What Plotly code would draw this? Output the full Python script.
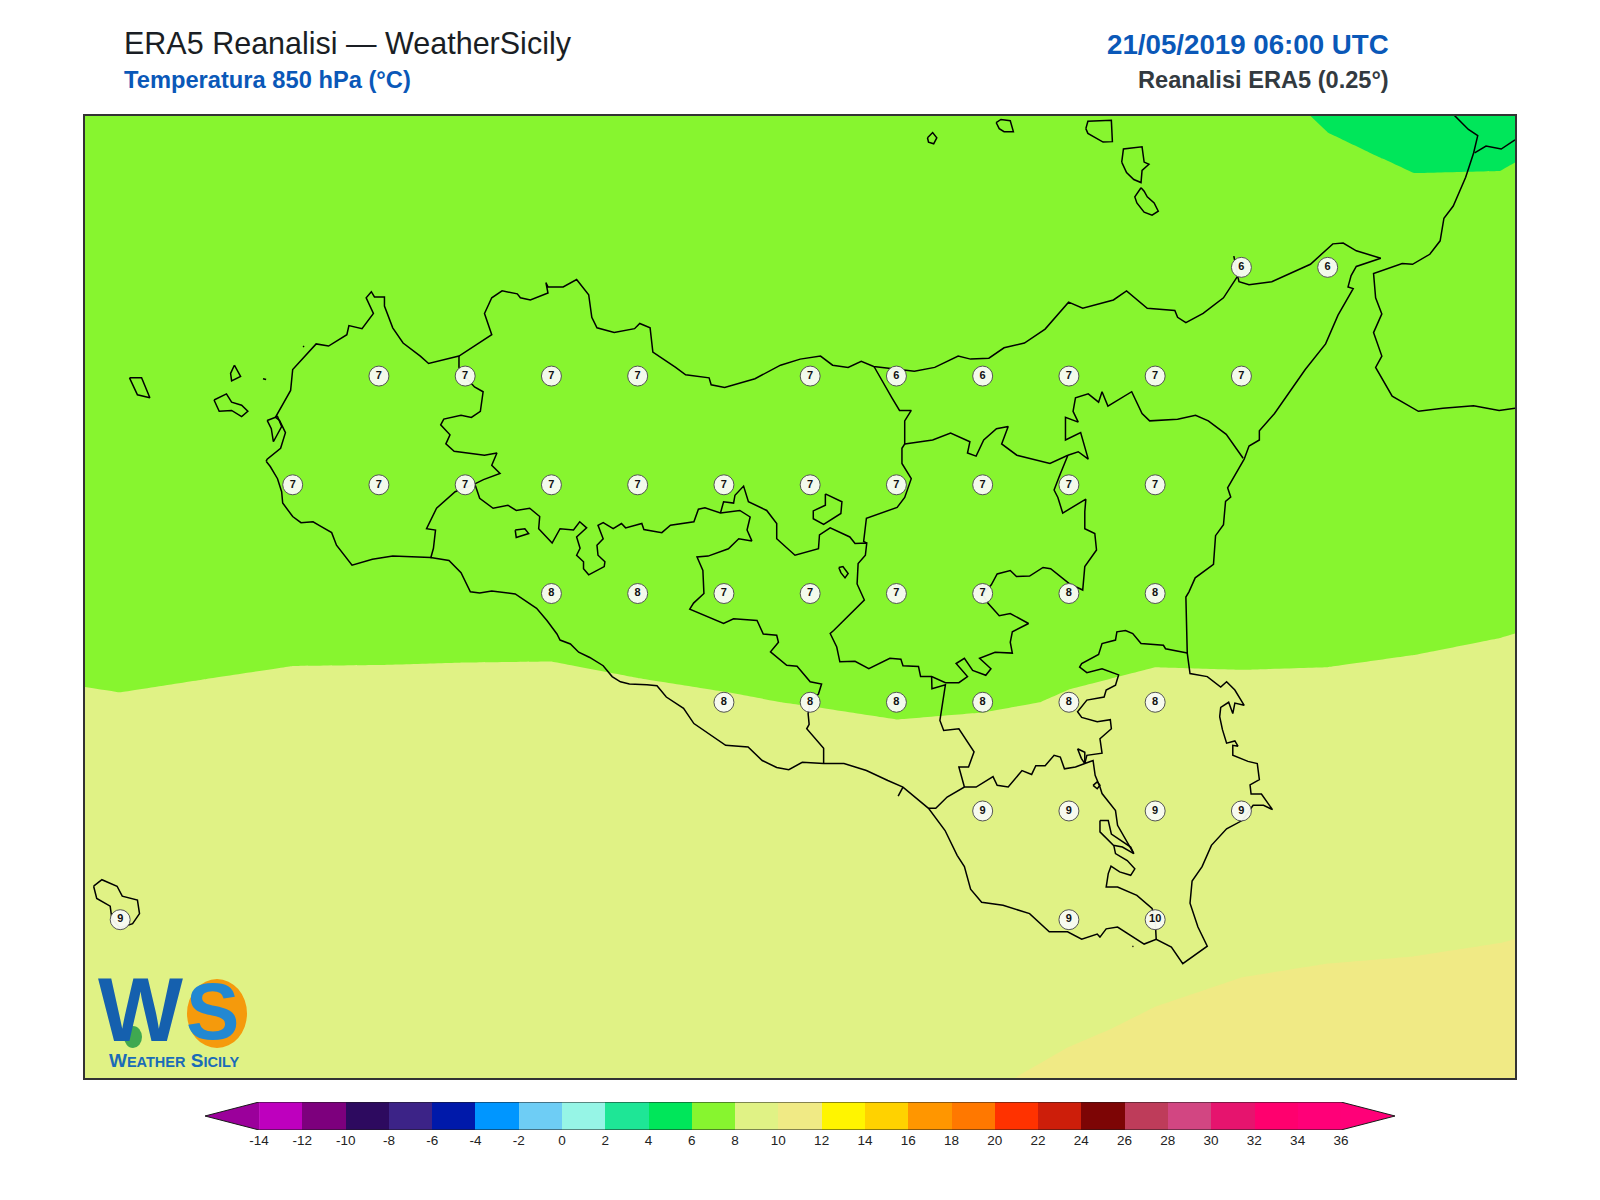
import plotly.graph_objects as go

# ERA5 850 hPa temperature on the 0.25 degree grid
grid_lon = [11.75, 12.0, 12.25, 12.5, 12.75, 13.0, 13.25, 13.5, 13.75, 14.0, 14.25, 14.5, 14.75, 15.0, 15.25, 15.5, 15.75, 16.0, 16.25]
grid_lat = [36.25, 36.5, 36.75, 37.0, 37.25, 37.5, 37.75, 38.0, 38.25, 38.5, 38.75]

t_3625 = [9.6, 9.6, 9.6, 9.65, 9.65, 9.7, 9.7, 9.7, 9.75, 9.8, 9.85, 10.15, 10.49, 10.8, 11.0, 11.2, 11.4, 11.7, 11.8]
t_3650 = [9.45, 9.45, 9.45, 9.45, 9.5, 9.5, 9.5, 9.5, 9.55, 9.6, 9.65, 9.75, 9.9, 10.1, 10.53, 10.89, 11.08, 11.64, 11.7]
t_3675 = [9.1, 9.1, 9.15, 9.15, 9.15, 9.15, 9.15, 9.15, 9.15, 9.2, 9.3, 9.35, 9.45, 9.6, 9.4, 9.4, 9.45, 9.55, 10.02]
t_3700 = [8.7, 8.75, 8.8, 8.85, 8.85, 8.85, 8.8, 8.75, 8.7, 8.77, 9.06, 9.16, 9.1, 9.1, 9.05, 9.05, 9.1, 9.2, 9.4]
t_3725 = [8.15, 8.06, 8.15, 8.25, 8.26, 8.26, 8.24, 8.13, 8.06, 7.97, 7.8, 7.88, 8.06, 8.19, 8.17, 8.19, 8.23, 8.29, 8.49]
t_3750 = [7.45, 7.4, 7.45, 7.5, 7.5, 7.55, 7.6, 7.55, 7.45, 7.4, 7.35, 7.3, 7.55, 7.6, 7.6, 7.6, 7.7, 7.8, 7.9]
t_3775 = [7.3, 7.3, 7.3, 7.25, 7.2, 7.2, 7.2, 7.15, 7.1, 7.05, 7.0, 7.0, 7.05, 7.2, 7.25, 7.3, 7.4, 7.45, 7.5]
t_3800 = [7.1, 7.1, 7.1, 7.1, 7.05, 7.0, 6.95, 6.9, 6.8, 6.6, 6.45, 6.45, 6.55, 6.65, 6.7, 6.8, 6.9, 6.9, 6.95]
t_3825 = [6.9, 6.9, 6.9, 6.9, 6.9, 6.9, 6.8, 6.8, 6.7, 6.6, 6.5, 6.5, 6.5, 6.45, 6.3, 6.35, 6.26, 6.39, 6.5]
t_3850 = [6.7, 6.7, 6.7, 6.7, 6.7, 6.7, 6.7, 6.7, 6.6, 6.6, 6.5, 6.5, 6.5, 6.4, 6.3, 6.07, 5.96, 5.95, 6.15]
t_3875 = [6.6, 6.6, 6.6, 6.6, 6.6, 6.6, 6.5, 6.5, 6.5, 6.5, 6.4, 6.4, 6.3, 6.2, 6.0, 5.78, 5.6, 5.6, 5.86]

# grid points printed on the land
point_lon = [15.25, 15.5,
             12.75, 13.0, 13.25, 13.5, 14.0, 14.25, 14.5, 14.75, 15.0, 15.25,
             12.5, 12.75, 13.0, 13.25, 13.5, 13.75, 14.0, 14.25, 14.5, 14.75, 15.0,
             13.25, 13.5, 13.75, 14.0, 14.25, 14.5, 14.75, 15.0,
             13.75, 14.0, 14.25, 14.5, 14.75, 15.0,
             14.5, 14.75, 15.0, 15.25,
             12.0, 14.75, 15.0]
point_lat = [38.25, 38.25,
             38.0, 38.0, 38.0, 38.0, 38.0, 38.0, 38.0, 38.0, 38.0, 38.0,
             37.75, 37.75, 37.75, 37.75, 37.75, 37.75, 37.75, 37.75, 37.75, 37.75, 37.75,
             37.5, 37.5, 37.5, 37.5, 37.5, 37.5, 37.5, 37.5,
             37.25, 37.25, 37.25, 37.25, 37.25, 37.25,
             37.0, 37.0, 37.0, 37.0,
             36.75, 36.75, 36.75]
point_val = [6, 6,
             7, 7, 7, 7, 7, 6, 6, 7, 7, 7,
             7, 7, 7, 7, 7, 7, 7, 7, 7, 7, 7,
             8, 8, 7, 7, 7, 7, 8, 8,
             8, 8, 8, 8, 8, 8,
             9, 9, 9, 9,
             9, 9, 10]

cbar_ticks = list(range(-14, 38, 2))
cbar_labels = [str(t) for t in cbar_ticks]
cbar_colors = ["#BE00BE", "#7D007D", "#2D0A5F", "#3C2387", "#0019AA", "#0096FF", "#6ECDF5", "#96F5E6",
               "#1EE696", "#00E65A", "#87F52F", "#E0F285", "#F0EA85", "#FFF500", "#FFD200", "#FF9600",
               "#FF7800", "#FF3200", "#CD1E0A", "#7D0505", "#BE3C5A", "#D24682", "#E6146E", "#FF006E", "#FF0078"]
cbar_mids = [-13, -11, -9, -7, -5, -3, -1, 1, 3, 5, 7, 9, 11, 13, 15, 17, 19, 21, 23, 25, 27, 29, 31, 33, 35]

# coastlines and province borders as (lon, lat)
sicily = [(12.423, 37.804), (12.435, 37.792), (12.456, 37.764), (12.468, 37.734), (12.471, 37.708), (12.500, 37.677), (12.524, 37.663),
          (12.559, 37.665), (12.583, 37.654), (12.613, 37.640), (12.627, 37.611), (12.672, 37.565), (12.731, 37.579), (12.790, 37.586),
          (12.900, 37.583), (12.953, 37.576), (12.988, 37.548), (13.015, 37.504), (13.042, 37.501), (13.077, 37.506), (13.145, 37.499),
          (13.184, 37.478), (13.207, 37.466), (13.237, 37.438), (13.266, 37.407), (13.275, 37.393), (13.305, 37.384), (13.329, 37.365),
          (13.361, 37.353), (13.400, 37.334), (13.426, 37.309), (13.450, 37.297), (13.476, 37.292), (13.527, 37.290), (13.556, 37.288),
          (13.583, 37.262), (13.633, 37.236), (13.663, 37.201), (13.710, 37.175), (13.755, 37.151), (13.820, 37.147), (13.861, 37.116),
          (13.903, 37.100), (13.938, 37.095), (13.977, 37.112), (14.039, 37.109), (14.098, 37.109), (14.163, 37.093), (14.225, 37.070),
          (14.269, 37.055), (14.343, 37.006), (14.391, 36.955), (14.426, 36.898), (14.447, 36.872), (14.465, 36.820), (14.497, 36.790),
          (14.559, 36.783), (14.636, 36.764), (14.693, 36.722), (14.746, 36.722), (14.787, 36.705), (14.832, 36.717), (14.840, 36.710),
          (14.858, 36.729), (14.891, 36.733), (14.923, 36.717), (14.968, 36.694), (15.003, 36.705), (15.047, 36.687), (15.080, 36.649),
          (15.124, 36.675), (15.151, 36.689), (15.124, 36.733), (15.101, 36.788), (15.107, 36.839), (15.136, 36.872), (15.163, 36.921),
          (15.207, 36.959), (15.252, 36.978), (15.284, 37.013), (15.314, 37.013), (15.340, 37.003), (15.308, 37.039), (15.278, 37.039),
          (15.275, 37.060), (15.302, 37.072), (15.296, 37.109), (15.269, 37.114), (15.225, 37.128), (15.225, 37.151), (15.240, 37.149),
          (15.231, 37.161), (15.207, 37.156), (15.195, 37.187), (15.187, 37.217), (15.190, 37.238), (15.213, 37.250), (15.225, 37.224),
          (15.231, 37.248), (15.258, 37.243), (15.231, 37.278), (15.207, 37.297), (15.190, 37.285), (15.151, 37.309), (15.101, 37.316),
          (15.093, 37.363), (15.089, 37.492), (15.098, 37.504), (15.116, 37.536), (15.169, 37.567), (15.175, 37.633), (15.198, 37.658),
          (15.204, 37.712), (15.219, 37.722), (15.210, 37.743), (15.258, 37.809), (15.272, 37.839), (15.302, 37.853), (15.302, 37.874),
          (15.346, 37.914), (15.435, 38.015), (15.494, 38.074), (15.530, 38.140), (15.565, 38.191), (15.574, 38.201), (15.559, 38.205),
          (15.568, 38.231), (15.583, 38.252), (15.654, 38.271), (15.583, 38.288), (15.545, 38.306), (15.515, 38.304), (15.450, 38.257),
          (15.338, 38.217), (15.272, 38.210), (15.243, 38.217), (15.240, 38.227), (15.228, 38.276), (15.240, 38.231), (15.198, 38.180),
          (15.139, 38.144), (15.089, 38.123), (15.065, 38.135), (15.057, 38.151), (14.977, 38.156), (14.917, 38.196), (14.879, 38.175),
          (14.790, 38.156), (14.749, 38.170), (14.681, 38.108), (14.621, 38.076), (14.562, 38.065), (14.518, 38.041), (14.465, 38.039),
          (14.429, 38.046), (14.361, 38.020), (14.302, 38.011), (14.184, 38.022), (14.148, 38.034), (14.110, 38.020), (14.065, 38.025),
          (14.030, 38.046), (13.971, 38.039), (13.914, 38.025), (13.840, 37.994), (13.752, 37.974), (13.713, 37.980), (13.707, 37.996),
          (13.639, 38.003), (13.610, 38.020), (13.544, 38.055), (13.536, 38.111), (13.506, 38.121), (13.491, 38.109), (13.432, 38.100),
          (13.382, 38.111), (13.367, 38.135), (13.358, 38.187), (13.323, 38.222), (13.284, 38.205), (13.240, 38.205), (13.234, 38.215),
          (13.240, 38.191), (13.189, 38.175), (13.160, 38.180), (13.151, 38.189), (13.107, 38.196), (13.077, 38.180), (13.056, 38.144),
          (13.077, 38.095), (12.982, 38.046), (12.894, 38.029), (12.870, 38.046), (12.820, 38.076), (12.790, 38.111), (12.766, 38.161),
          (12.766, 38.182), (12.737, 38.182), (12.728, 38.194), (12.713, 38.180), (12.734, 38.144), (12.701, 38.109), (12.663, 38.116),
          (12.657, 38.095), (12.604, 38.069), (12.568, 38.074), (12.530, 38.041), (12.500, 38.015), (12.494, 37.967), (12.450, 37.905),
          (12.462, 37.898), (12.479, 37.870), (12.465, 37.834), (12.426, 37.809), (12.423, 37.804)]

stagnone = [(12.426, 37.898), (12.456, 37.907), (12.468, 37.884), (12.444, 37.849), (12.438, 37.879), (12.426, 37.898)]
marettimo = [(12.027, 37.996), (12.062, 37.996), (12.086, 37.950), (12.050, 37.957), (12.027, 37.996)]
favignana = [(12.272, 37.945), (12.308, 37.959), (12.323, 37.940), (12.352, 37.933), (12.370, 37.919), (12.352, 37.907), (12.323, 37.921), (12.287, 37.919), (12.272, 37.945)]
levanzo = [(12.331, 38.025), (12.349, 37.999), (12.323, 37.989), (12.320, 38.006), (12.331, 38.025)]
formica = [(12.414, 37.994), (12.423, 37.992)]
alicudi = [(14.340, 38.548), (14.355, 38.560), (14.367, 38.548), (14.358, 38.534), (14.343, 38.538), (14.340, 38.548)]
filicudi = [(14.539, 38.583), (14.553, 38.590), (14.580, 38.587), (14.589, 38.562), (14.562, 38.562), (14.548, 38.569), (14.539, 38.583)]
salina = [(14.799, 38.569), (14.805, 38.586), (14.873, 38.588), (14.876, 38.539), (14.849, 38.538), (14.805, 38.558), (14.799, 38.569)]
lipari = [(14.903, 38.492), (14.908, 38.522), (14.962, 38.527), (14.968, 38.492), (14.982, 38.487), (14.962, 38.473), (14.959, 38.445), (14.938, 38.452), (14.917, 38.468), (14.903, 38.492)]
vulcano = [(14.959, 38.433), (14.968, 38.425), (14.977, 38.412), (14.997, 38.398), (15.009, 38.379), (14.991, 38.370), (14.968, 38.377), (14.947, 38.398), (14.941, 38.412), (14.959, 38.433)]
pantelleria = [(11.923, 36.827), (11.947, 36.842), (11.991, 36.827), (12.006, 36.804), (12.050, 36.795), (12.056, 36.764), (12.036, 36.741), (12.000, 36.731), (11.976, 36.752), (11.971, 36.781), (11.932, 36.799), (11.923, 36.827)]
islet_north = [(12.530, 38.069), (12.533, 38.067)]
islet_south = [(14.934, 36.689), (14.937, 36.688)]

calabria = [(15.864, 38.602), (15.908, 38.567), (15.935, 38.553), (15.923, 38.513), (15.900, 38.457), (15.864, 38.391), (15.837, 38.363),
            (15.826, 38.311), (15.796, 38.280), (15.746, 38.257), (15.716, 38.259), (15.633, 38.236), (15.639, 38.180), (15.657, 38.143),
            (15.633, 38.100), (15.657, 38.046), (15.639, 38.020), (15.687, 37.954), (15.763, 37.919), (15.834, 37.926), (15.923, 37.932),
            (15.997, 37.921), (16.043, 37.926)]
calabria_border = [(15.926, 38.513), (15.959, 38.529), (16.003, 38.522), (16.043, 38.543)]

tp_pa = [(12.982, 38.046), (12.982, 38.020), (13.000, 37.999), (13.027, 37.975), (13.052, 37.964), (13.044, 37.919), (13.018, 37.905),
         (12.988, 37.910), (12.938, 37.901), (12.929, 37.888), (12.956, 37.865), (12.944, 37.844), (12.968, 37.827), (13.056, 37.818),
         (13.092, 37.823), (13.077, 37.795), (13.101, 37.776), (13.053, 37.762), (13.028, 37.752)]
tp_ag = [(13.028, 37.752), (12.971, 37.734), (12.917, 37.696), (12.888, 37.649), (12.914, 37.646), (12.908, 37.604), (12.900, 37.581)]
pa_ag = [(13.028, 37.752), (13.042, 37.719), (13.081, 37.696), (13.124, 37.703), (13.148, 37.691), (13.187, 37.696), (13.216, 37.677),
         (13.213, 37.649), (13.252, 37.616), (13.275, 37.649), (13.314, 37.646), (13.332, 37.665), (13.352, 37.651), (13.323, 37.630),
         (13.333, 37.604), (13.323, 37.588), (13.343, 37.573), (13.343, 37.557), (13.358, 37.543), (13.403, 37.562), (13.405, 37.573),
         (13.385, 37.588), (13.382, 37.611), (13.400, 37.626), (13.385, 37.657), (13.400, 37.663), (13.429, 37.649), (13.453, 37.661),
         (13.465, 37.651), (13.512, 37.661), (13.518, 37.647), (13.570, 37.640), (13.595, 37.657), (13.663, 37.665), (13.676, 37.694),
         (13.695, 37.697), (13.740, 37.685), (13.796, 37.691), (13.826, 37.676), (13.817, 37.646), (13.831, 37.621), (13.793, 37.626),
         (13.763, 37.603), (13.704, 37.586), (13.672, 37.584), (13.689, 37.553), (13.692, 37.500), (13.662, 37.478), (13.651, 37.464),
         (13.704, 37.446), (13.749, 37.431), (13.778, 37.442), (13.846, 37.438), (13.864, 37.407), (13.903, 37.404), (13.908, 37.388),
         (13.885, 37.366), (13.932, 37.335), (13.962, 37.333), (14.000, 37.297), (14.033, 37.292), (14.024, 37.269), (14.000, 37.250),
         (13.994, 37.224), (13.997, 37.199), (13.990, 37.189), (14.019, 37.163), (14.039, 37.144), (14.039, 37.109)]
pa_cl = [(13.740, 37.685), (13.749, 37.711), (13.778, 37.708), (13.782, 37.726), (13.807, 37.747), (13.821, 37.711), (13.874, 37.691),
         (13.903, 37.661), (13.903, 37.626), (13.956, 37.588), (14.024, 37.603), (14.027, 37.635), (14.058, 37.651), (14.115, 37.630),
         (14.130, 37.615), (14.164, 37.616), (14.160, 37.588), (14.139, 37.569), (14.136, 37.522), (14.157, 37.485), (14.068, 37.415),
         (14.058, 37.408), (14.077, 37.377), (14.086, 37.343), (14.130, 37.344), (14.170, 37.327), (14.231, 37.351), (14.263, 37.349),
         (14.269, 37.334), (14.314, 37.332), (14.320, 37.309), (14.352, 37.309), (14.392, 37.295), (14.431, 37.295), (14.456, 37.309),
         (14.423, 37.339), (14.447, 37.351), (14.471, 37.323), (14.509, 37.312), (14.524, 37.327), (14.491, 37.351), (14.536, 37.365),
         (14.586, 37.363), (14.580, 37.388), (14.586, 37.412), (14.633, 37.431), (14.580, 37.454), (14.548, 37.449), (14.515, 37.478),
         (14.500, 37.498), (14.525, 37.520), (14.542, 37.545), (14.580, 37.553), (14.598, 37.539), (14.636, 37.540), (14.675, 37.560),
         (14.697, 37.557), (14.752, 37.522), (14.790, 37.508), (14.796, 37.562), (14.830, 37.600), (14.825, 37.638), (14.796, 37.649),
         (14.796, 37.688), (14.799, 37.717), (14.732, 37.685), (14.718, 37.721), (14.707, 37.738), (14.722, 37.769), (14.747, 37.818)]
pa_en = [(14.164, 37.616), (14.155, 37.620), (14.163, 37.673), (14.252, 37.698), (14.274, 37.721), (14.293, 37.764), (14.266, 37.799),
         (14.266, 37.834), (14.274, 37.844), (14.274, 37.897), (14.293, 37.921), (14.259, 37.921), (14.237, 37.950), (14.185, 38.022)]
me_en = [(14.274, 37.844), (14.355, 37.853), (14.407, 37.869), (14.463, 37.849), (14.456, 37.823), (14.481, 37.816), (14.503, 37.853),
         (14.540, 37.879), (14.574, 37.884), (14.555, 37.844), (14.599, 37.818), (14.695, 37.799), (14.747, 37.818)]
me_ct = [(14.747, 37.818), (14.777, 37.826), (14.806, 37.809), (14.784, 37.870), (14.740, 37.853), (14.740, 37.905), (14.777, 37.894),
         (14.762, 37.919), (14.769, 37.950), (14.806, 37.959), (14.836, 37.940), (14.846, 37.964), (14.863, 37.931), (14.932, 37.964),
         (14.962, 37.914), (14.984, 37.897), (15.065, 37.901), (15.117, 37.910), (15.154, 37.897), (15.206, 37.866), (15.255, 37.811)]
cl_rg = [(14.352, 37.309), (14.353, 37.281), (14.392, 37.290), (14.382, 37.239), (14.376, 37.208), (14.387, 37.185), (14.431, 37.189),
         (14.475, 37.136), (14.459, 37.101), (14.431, 37.101), (14.447, 37.055)]
ct_sr = [(15.093, 37.363), (15.030, 37.373), (15.024, 37.381), (14.959, 37.385), (14.935, 37.408), (14.914, 37.415), (14.889, 37.412),
         (14.885, 37.393), (14.846, 37.385), (14.836, 37.360), (14.787, 37.339), (14.781, 37.331), (14.802, 37.318), (14.846, 37.327),
         (14.894, 37.313), (14.885, 37.289), (14.858, 37.278), (14.852, 37.262), (14.802, 37.255), (14.775, 37.228), (14.787, 37.215),
         (14.832, 37.205), (14.870, 37.210), (14.873, 37.189), (14.840, 37.166), (14.846, 37.133), (14.802, 37.128), (14.796, 37.109),
         (14.820, 37.116), (14.826, 37.082), (14.840, 37.055), (14.846, 37.040), (14.885, 37.001), (14.891, 36.967), (14.938, 36.902)]
lagoon = [(14.840, 36.978), (14.864, 36.978), (14.873, 36.947), (14.929, 36.917), (14.938, 36.902), (14.905, 36.917), (14.879, 36.921), (14.840, 36.952), (14.840, 36.978)]
rg_sr = [(14.880, 36.921), (14.885, 36.902), (14.919, 36.886), (14.941, 36.867), (14.929, 36.852), (14.897, 36.860), (14.872, 36.873),
         (14.864, 36.856), (14.858, 36.825), (14.891, 36.825), (14.947, 36.806), (14.991, 36.776), (15.000, 36.750), (15.003, 36.705)]
ct_rg = [(14.796, 37.109), (14.769, 37.101), (14.737, 37.097), (14.725, 37.124), (14.707, 37.128), (14.681, 37.104), (14.654, 37.104),
         (14.642, 37.084), (14.614, 37.093), (14.574, 37.055), (14.542, 37.059), (14.530, 37.079), (14.481, 37.055), (14.447, 37.055),
         (14.397, 37.032), (14.364, 37.006), (14.343, 37.006)]
lentini = [(14.775, 37.143), (14.796, 37.135), (14.796, 37.109), (14.786, 37.121), (14.775, 37.143)]
biviere = [(14.820, 37.059), (14.832, 37.067), (14.840, 37.059), (14.832, 37.051), (14.820, 37.059)]
pergusa = [(14.083, 37.560), (14.095, 37.562), (14.110, 37.546), (14.101, 37.536), (14.089, 37.548), (14.083, 37.560)]
pozzillo = [(14.044, 37.729), (14.092, 37.711), (14.089, 37.684), (14.039, 37.659), (14.009, 37.672), (14.009, 37.690), (14.044, 37.703), (14.044, 37.729)]
arancio = [(13.145, 37.646), (13.173, 37.649), (13.184, 37.638), (13.148, 37.629), (13.145, 37.646)]
gela_tick = [(14.255, 37.034), (14.269, 37.055)]

outlines = [sicily, stagnone, marettimo, favignana, levanzo, formica, alicudi, filicudi, salina, lipari, vulcano, pantelleria,
            islet_north, islet_south, calabria, calabria_border, tp_pa, tp_ag, pa_ag, pa_cl, pa_en, me_en, me_ct, cl_rg, ct_sr,
            lagoon, rg_sr, ct_rg, lentini, biviere, pergusa, pozzillo, arancio, gela_tick]

W, H = 1600, 1200
PAGE_MARGIN = 8  # the browser's default body margin shifts the whole figure


def px_x(x):
    return (x - PAGE_MARGIN) / W


def px_y(y):
    return 1 - (y - PAGE_MARGIN) / H


# stepped colorscale, one flat colour per 2 degree band
n_bands = len(cbar_colors)
colorscale = []
for i, c in enumerate(cbar_colors):
    colorscale.append([i / n_bands, c])
    colorscale.append([(i + 1) / n_bands, c])

fig = go.Figure()

fig.add_trace(go.Contour(
    x=grid_lon, y=grid_lat,
    z=[t_3625, t_3650, t_3675, t_3700, t_3725, t_3750, t_3775, t_3800, t_3825, t_3850, t_3875],
    zmin=-14, zmax=36, colorscale=colorscale, showscale=False,
    contours=dict(start=-14, end=36, size=2, coloring="fill", showlines=False),
    line=dict(width=0, smoothing=0), hoverinfo="skip",
))

for path in outlines:
    fig.add_trace(go.Scatter(
        x=[p[0] for p in path], y=[p[1] for p in path], mode="lines",
        line=dict(color="black", width=1.5), hoverinfo="skip", showlegend=False,
    ))

fig.add_trace(go.Scatter(
    x=point_lon, y=point_lat, mode="markers+text",
    text=[str(v) for v in point_val], textposition="middle center",
    textfont=dict(family="Liberation Sans", size=11, color="#111111", weight="bold"),
    marker=dict(size=20, color="rgba(248,250,244,0.96)", line=dict(color="#555555", width=1)),
    hoverinfo="skip", showlegend=False,
))

# colour bar on its own axes, with the two pointed ends
fig.add_trace(go.Heatmap(
    x=cbar_ticks, y=[0, 1], z=[cbar_mids], zmin=-14, zmax=36,
    colorscale=colorscale, showscale=False, xaxis="x2", yaxis="y2", hoverinfo="skip",
))
fig.add_trace(go.Scatter(
    x=[-14, -16.5, -14], y=[1, 0.5, 0], mode="lines", fill="toself", fillcolor="#9B009B",
    line=dict(color="#1a1a1a", width=1), xaxis="x2", yaxis="y2", hoverinfo="skip", showlegend=False,
))
fig.add_trace(go.Scatter(
    x=[36, 38.5, 36], y=[1, 0.5, 0], mode="lines", fill="toself", fillcolor="#FF0078",
    line=dict(color="#1a1a1a", width=1), xaxis="x2", yaxis="y2", hoverinfo="skip", showlegend=False,
))
fig.add_trace(go.Scatter(
    x=[-14, 36, None, -14, 36], y=[1, 1, None, 0, 0], mode="lines",
    line=dict(color="#1a1a1a", width=1.2), xaxis="x2", yaxis="y2", hoverinfo="skip", showlegend=False,
))

fig.update_layout(
    width=W, height=H, margin=dict(l=0, r=0, t=0, b=0),
    paper_bgcolor="white", plot_bgcolor="white", showlegend=False,
    font=dict(family="Liberation Sans"),
    xaxis=dict(domain=[px_x(85), px_x(1515)], range=[11.898, 16.043], showticklabels=False, ticks="", showgrid=False,
               zeroline=False, showline=True, mirror=True, linecolor="#333333", linewidth=2),
    yaxis=dict(domain=[px_y(1078), px_y(116)], range=[36.386, 38.598], showticklabels=False, ticks="", showgrid=False,
               zeroline=False, showline=True, mirror=True, linecolor="#333333", linewidth=2),
    xaxis2=dict(domain=[px_x(205), px_x(1395)], range=[-16.5, 38.5], anchor="y2", tickvals=cbar_ticks, ticktext=cbar_labels,
                ticks="", showgrid=False, zeroline=False, showline=False,
                tickfont=dict(size=13.5, color="#222222", family="Liberation Sans")),
    yaxis2=dict(domain=[px_y(1130), px_y(1102)], range=[0, 1], anchor="x2", visible=False),
)

texts = [
    ("ERA5 Reanalisi — WeatherSicily", 122, 43, "left", 30.5, "#1a1e24", False),
    ("Temperatura 850 hPa (°C)", 122, 80, "left", 23.7, "#0A58B8", True),
    ("21/05/2019 06:00 UTC", 1391, 44, "right", 27.7, "#0A58B8", True),
    ("Reanalisi ERA5 (0.25°)", 1391, 80, "right", 23.6, "#333A40", True),
]
for label, x, y, anchor, size, color, bold in texts:
    fig.add_annotation(
        text=label, x=px_x(x), y=px_y(y), xref="paper", yref="paper", xanchor=anchor, yanchor="middle",
        showarrow=False, font=dict(family="Liberation Sans", size=size, color=color, weight="bold" if bold else "normal"),
    )

# logo, drawn with shapes and text
fig.add_shape(type="circle", xref="paper", yref="paper", x0=px_x(187), x1=px_x(247), y0=px_y(1048), y1=px_y(979),
              fillcolor="#F59A0C", line=dict(width=0))
fig.add_shape(type="circle", xref="paper", yref="paper", x0=px_x(124), x1=px_x(142), y0=px_y(1048), y1=px_y(1026),
              fillcolor="#3FA850", line=dict(width=0))
fig.add_annotation(text="W", x=px_x(140), y=px_y(1010), xref="paper", yref="paper", xanchor="center", yanchor="middle",
                   showarrow=False, font=dict(family="Liberation Sans", size=90, color="#1560AE", weight="bold"))
fig.add_annotation(text="S", x=px_x(213), y=px_y(1011), xref="paper", yref="paper", xanchor="center", yanchor="middle",
                   showarrow=False, font=dict(family="Liberation Sans", size=80, color="#2288D2", weight="bold"))
fig.add_annotation(text="W<span style='font-size:14.5px'>EATHER</span> S<span style='font-size:14.5px'>ICILY</span>",
                   x=px_x(174), y=px_y(1060), xref="paper", yref="paper", xanchor="center", yanchor="middle",
                   showarrow=False, font=dict(family="Liberation Sans", size=19, color="#1A6BB8", weight="bold"))

fig.write_html("out.html")
